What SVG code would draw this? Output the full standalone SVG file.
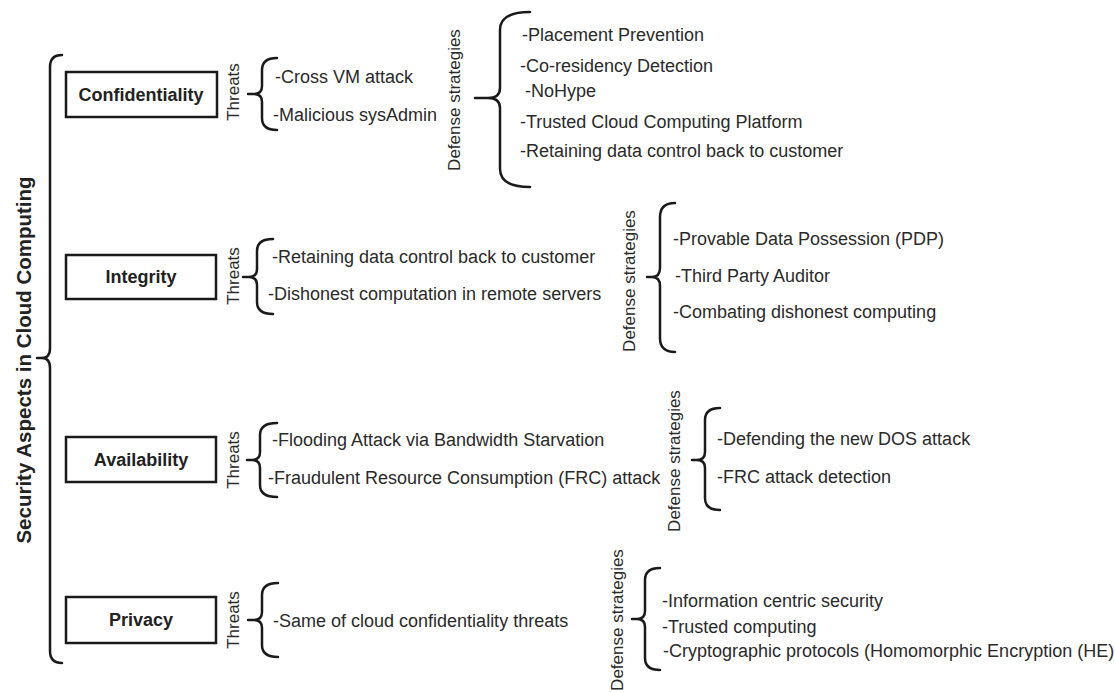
<svg xmlns="http://www.w3.org/2000/svg" width="1115" height="692" viewBox="0 0 1115 692">
<style>
.t{font-family:"Liberation Sans",Arial,sans-serif;font-size:18px;fill:#2a2a2a}
.v{font-family:"Liberation Sans",Arial,sans-serif;font-size:17px;fill:#2a2a2a;text-anchor:middle}
.b{font-family:"Liberation Sans",Arial,sans-serif;font-size:18px;font-weight:bold;fill:#222;text-anchor:middle}
.ttl{font-family:"Liberation Sans",Arial,sans-serif;font-size:20.5px;font-weight:bold;fill:#222;text-anchor:middle}
.box{fill:#fff;stroke:#1a1a1a;stroke-width:2.5}
.br{fill:none;stroke:#1a1a1a;stroke-width:2.5;stroke-linejoin:round;stroke-linecap:round}
</style>
<rect width="1115" height="692" fill="#fff"/>
<g id="title">
<text class="ttl" transform="translate(31,360) rotate(-90)">Security Aspects in Cloud Computing</text>
</g>
<g id="connectors">
<path class="br" d="M62,55 Q50,55 50,67 L50,348 Q50,358 42,358 L37,358 L42,358 Q50,358 50,368 L50,651 Q50,663 62,663"/>
<path class="br" d="M277,58 Q262,58 262,70 L262,86 Q262,94 254,94 L248,94 L254,94 Q262,94 262,102 L262,118 Q262,130 277,130"/>
<path class="br" d="M273,239 Q257,239 257,251 L257,269 Q257,277 249,277 L243,277 L249,277 Q257,277 257,285 L257,302 Q257,314 273,314"/>
<path class="br" d="M277,423 Q260,423 260,435 L260,452 Q260,460 252,460 L247,460 L252,460 Q260,460 260,468 L260,485 Q260,497 277,497"/>
<path class="br" d="M278,583 Q262,583 262,595 L262,612 Q262,620 254,620 L248,620 L254,620 Q262,620 262,628 L262,645 Q262,657 278,657"/>
<path class="br" d="M530,12 Q500,12 500,30 L500,88 Q500,98 488,98 L475,98 L488,98 Q500,98 500,108 L500,169 Q500,187 530,187"/>
<path class="br" d="M675,203 Q660,203 660,217 L660,268 Q660,277 652,277 L647,277 L652,277 Q660,277 660,286 L660,338 Q660,352 675,352"/>
<path class="br" d="M720,408 Q705,408 705,420 L705,452 Q705,460 697,460 L692,460 L697,460 Q705,460 705,468 L705,498 Q705,510 720,510"/>
<path class="br" d="M660,568 Q645,568 645,580 L645,611 Q645,619 637,619 L632,619 L637,619 Q645,619 645,627 L645,658 Q645,670 660,670"/>
</g>
<g id="confidentiality">
<rect class="box" x="66" y="72" width="151" height="45"/>
<text class="b" x="141" y="101">Confidentiality</text>
<text class="v" transform="translate(239,92) rotate(-90)">Threats</text>
<text class="t" x="275" y="83">-Cross VM attack</text>
<text class="t" x="273" y="121">-Malicious sysAdmin</text>
<text class="v" transform="translate(460,100) rotate(-90)">Defense strategies</text>
<text class="t" x="522" y="41">-Placement Prevention</text>
<text class="t" x="520" y="72">-Co-residency Detection</text>
<text class="t" x="525" y="97">-NoHype</text>
<text class="t" x="520" y="128">-Trusted Cloud Computing Platform</text>
<text class="t" x="520" y="157">-Retaining data control back to customer</text>
</g>
<g id="integrity">
<rect class="box" x="66" y="255" width="150" height="44"/>
<text class="b" x="141" y="283">Integrity</text>
<text class="v" transform="translate(239,276) rotate(-90)">Threats</text>
<text class="t" x="272" y="263">-Retaining data control back to customer</text>
<text class="t" x="268" y="300">-Dishonest computation in remote servers</text>
<text class="v" transform="translate(635,281) rotate(-90)">Defense strategies</text>
<text class="t" x="673" y="245">-Provable Data Possession (PDP)</text>
<text class="t" x="675" y="282">-Third Party Auditor</text>
<text class="t" x="673" y="318">-Combating dishonest computing</text>
</g>
<g id="availability">
<rect class="box" x="66" y="437" width="150" height="45"/>
<text class="b" x="141" y="466">Availability</text>
<text class="v" transform="translate(239,460) rotate(-90)">Threats</text>
<text class="t" x="272" y="446">-Flooding Attack via Bandwidth Starvation</text>
<text class="t" x="268" y="484">-Fraudulent Resource Consumption (FRC) attack</text>
<text class="v" transform="translate(680,461) rotate(-90)">Defense strategies</text>
<text class="t" x="717" y="445">-Defending the new DOS attack</text>
<text class="t" x="717" y="483">-FRC attack detection</text>
</g>
<g id="privacy">
<rect class="box" x="66" y="597" width="150" height="46"/>
<text class="b" x="141" y="626">Privacy</text>
<text class="v" transform="translate(239,620) rotate(-90)">Threats</text>
<text class="t" x="273" y="627">-Same of cloud confidentiality threats</text>
<text class="v" transform="translate(623,620) rotate(-90)">Defense strategies</text>
<text class="t" x="662" y="607">-Information centric security</text>
<text class="t" x="662" y="633">-Trusted computing</text>
<text class="t" x="663" y="657">-Cryptographic protocols (Homomorphic Encryption (HE)</text>
</g>
</svg>
